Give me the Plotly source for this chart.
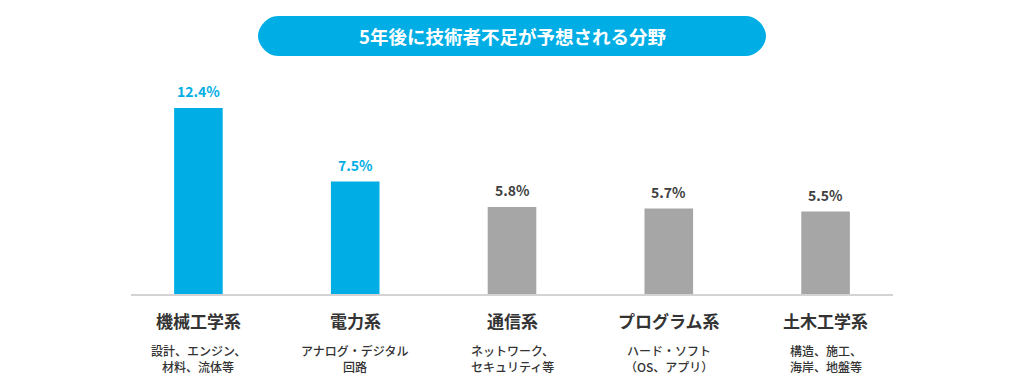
import plotly.graph_objects as go

categories = ["機械工学系", "電力系", "通信系", "プログラム系", "土木工学系"]
sub_line1 = ["設計、エンジン、", "アナログ・デジタル", "ネットワーク、", "ハード・ソフト", "構造、施工、"]
sub_line2 = ["材料、流体等", "回路", "セキュリティ等", "（OS、アプリ）", "海岸、地盤等"]
values = [12.4, 7.5, 5.8, 5.7, 5.5]
highlight = [True, True, False, False, False]
title_text = "5年後に技術者不足が予想される分野"

BLUE = "#00AEE5"
GRAY = "#A6A6A6"
DARK = "#333333"
FONT = "Noto Sans CJK JP"

bar_colors = [BLUE if h else GRAY for h in highlight]
label_colors = [BLUE if h else "#404040" for h in highlight]

fig = go.Figure(
    go.Bar(
        x=list(range(len(categories))),
        y=values,
        width=0.31,
        marker=dict(color=bar_colors, line=dict(width=0)),
        hoverinfo="skip",
    )
)

annotations = []
for i, (cat, s1, s2, v, lc) in enumerate(zip(categories, sub_line1, sub_line2, values, label_colors)):
    annotations.append(dict(
        x=i, y=v, xref="x", yref="y", text=f"{v}%", showarrow=False,
        yanchor="middle", yshift=17,
        font=dict(family=FONT, size=14, color=lc, weight="bold"),
    ))
    annotations.append(dict(
        x=i, y=0, xref="x", yref="y", text=cat, showarrow=False,
        yanchor="middle", yshift=-26,
        font=dict(family=FONT, size=17, color=DARK, weight="bold"),
    ))
    for line, shift in ((s1, -56), (s2, -72)):
        annotations.append(dict(
            x=i, y=0, xref="x", yref="y", text=line, showarrow=False,
            yanchor="middle", yshift=shift, borderpad=0,
            font=dict(family=FONT, size=12, color=DARK, weight=500),
        ))

# title pill
TY = 1.1026
annotations.append(dict(
    x=0.5, y=TY, xref="paper", yref="paper", text=title_text, showarrow=False,
    xanchor="center", yanchor="middle",
    font=dict(family=FONT, size=18.5, color="white", weight="bold"),
))

k = 11.05
pill = (f"M -234,-20 L 234,-20 C {234+k},-20 254,{-20+k} 254,0 "
        f"C 254,{20-k} {234+k},20 234,20 L -234,20 "
        f"C {-234-k},20 -254,{20-k} -254,0 C -254,{-20+k} {-234-k},-20 -234,-20 Z")

fig.update_layout(
    width=1024, height=391,
    margin=dict(l=123, r=139, t=52, b=105),
    paper_bgcolor="white", plot_bgcolor="white",
    showlegend=False,
    xaxis=dict(range=[-0.43, 4.43], showticklabels=False, showgrid=False, zeroline=False,
               showline=True, linecolor="#D3D3D3", linewidth=1.5, ticks=""),
    yaxis=dict(range=[0, 15.6], visible=False, showgrid=False, zeroline=False),
    annotations=annotations,
    shapes=[dict(
        type="path", path=pill, xref="paper", yref="paper",
        xsizemode="pixel", ysizemode="pixel", xanchor=0.5, yanchor=TY,
        fillcolor=BLUE, line=dict(width=0), layer="above",
    )],
)

fig.write_html("out.html")
